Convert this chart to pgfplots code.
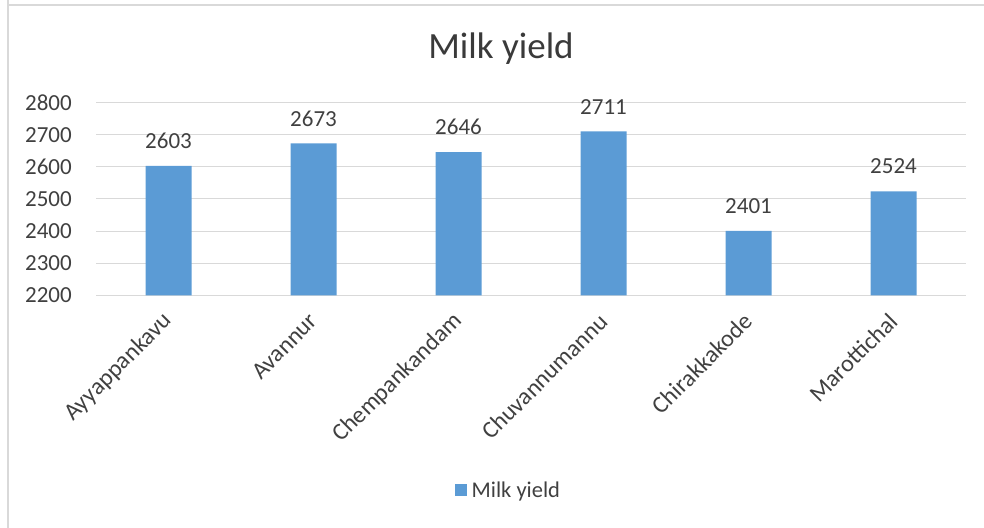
\documentclass[border=0pt]{standalone}
\usepackage{fontspec}
\setmainfont{Carlito}
\usepackage{pgfplots}
\pgfplotsset{compat=1.18}
\definecolor{barblue}{HTML}{5B9BD5}
\definecolor{txt}{HTML}{404040}
\definecolor{gridc}{HTML}{D9D9D9}
\begin{document}
\begin{tikzpicture}[x=1pt,y=1pt]
% chart frame (top and left edges visible)
\draw[gridc, line width=1.5pt] (8,530) -- (8,522) -- (990,522);
\draw[gridc, line width=1.5pt] (8,522) -- (8,-5);
\node[anchor=base, text=txt!90!black, font=\fontsize{37}{40}\selectfont] at (501,468) {Milk yield};
\begin{axis}[
  at={(96pt,231.7pt)}, anchor=south west,
  scale only axis, width=870pt, height=192.6pt,
  ybar, bar width=46pt,
  xmin=-0.5, xmax=5.5, ymin=2200, ymax=2800,
  ytick={2200,2300,...,2800},
  xtick={0,1,2,3,4,5},
  xticklabels={Ayyappankavu,Avannur,Chempankandam,Chuvannumannu,Chirakkakode,Marottichal},
  ymajorgrids, grid style={gridc, line width=1pt},
  axis line style={draw=none},
  major tick length=0pt,
  /pgf/number format/assume math mode=true,
  /pgf/number format/1000 sep={},
  tick label style={text=txt, font=\fontsize{23}{26}\selectfont},
  yticklabel style={anchor=east, inner sep=0pt, xshift=-24pt},
  xticklabel style={yshift=-22pt, xshift=0pt, rotate=45, anchor=east, inner sep=0pt,
    font=\fontsize{24}{26}\selectfont},
  nodes near coords,
  nodes near coords style={text=txt, font=\fontsize{23}{26}\selectfont, anchor=south, inner sep=0pt, yshift=17pt},
  legend style={at={(0.474,-1.011)}, anchor=center, draw=none, fill=none,
    font=\fontsize{22.5}{24}\selectfont, text=txt, inner sep=0pt},
  legend image code/.code={\fill[barblue] (0pt,-6pt) rectangle (12pt,6pt);},
  legend cell align=left,
  legend style={/tikz/every even column/.append style={column sep=0pt}},
]
\addplot[fill=barblue, draw=none] coordinates {(0,2603) (1,2673) (2,2646) (3,2711) (4,2401) (5,2524)};
\legend{\hspace{3pt}Milk yield}
\end{axis}
\pgfresetboundingbox
\path[use as bounding box] (0,0) rectangle (984,527);
\end{tikzpicture}
\end{document}
